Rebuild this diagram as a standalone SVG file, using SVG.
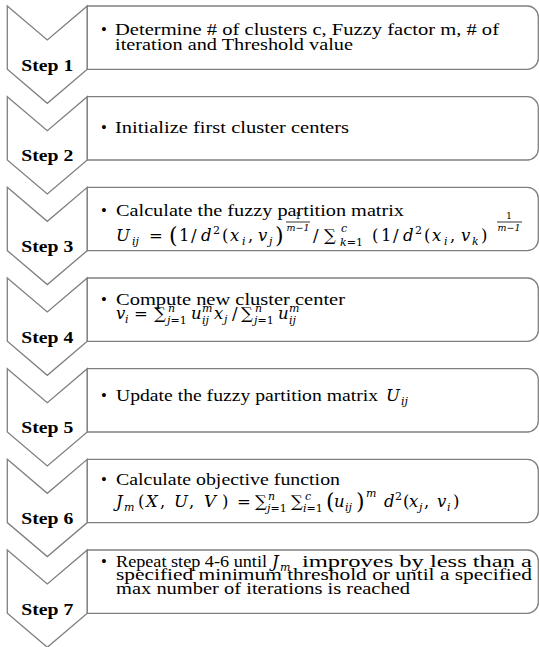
<svg xmlns="http://www.w3.org/2000/svg" width="539" height="647" viewBox="0 0 539 647">
<style>
.chev{fill:#fff;stroke:#808080;stroke-width:1.3;stroke-linejoin:miter}
.box{fill:#fff;stroke:#808080;stroke-width:1.3}
.t{font-family:"Liberation Serif","Times New Roman",serif;font-size:16.5px;fill:#000}
.lbl{font-weight:bold;text-anchor:middle}
.m{font-family:"DejaVu Serif","Liberation Serif",serif;font-size:16.5px;fill:#000}
.i{font-style:italic}
.s{font-size:11px}
.xs{font-size:9.5px}
.big{font-size:22px}
.c{text-anchor:middle}
.bar{stroke:#000;stroke-width:0.8}
</style>
<rect width="539" height="647" fill="#fff"/>
<g id="step1">
<path class="chev" d="M7.3,6 L47.3,40 L87.3,6 L87.3,69.3 L47.3,103.3 L7.3,69.3 Z"/>
<path class="box" d="M87.3,6 H527.3 A11,11 0 0 1 538.3,17 V58.3 A11,11 0 0 1 527.3,69.3 H87.3 Z"/>
<text class="t lbl" x="47.3" y="70.5" textLength="52" lengthAdjust="spacingAndGlyphs">Step 1</text>
<text class="t" x="101" y="35">•</text>
<text class="t" x="115" y="35" textLength="384" lengthAdjust="spacingAndGlyphs">Determine # of clusters c, Fuzzy  factor m, # of</text>
<text class="t" x="115" y="50" textLength="238" lengthAdjust="spacingAndGlyphs">iteration and Threshold value</text>
</g>
<g id="step2">
<path class="chev" d="M7.3,96.7 L47.3,130.7 L87.3,96.7 L87.3,160 L47.3,194 L7.3,160 Z"/>
<path class="box" d="M87.3,96.7 H527.3 A11,11 0 0 1 538.3,107.7 V149 A11,11 0 0 1 527.3,160 H87.3 Z"/>
<text class="t lbl" x="47.3" y="161.2" textLength="52" lengthAdjust="spacingAndGlyphs">Step 2</text>
<text class="t" x="101" y="133.3">•</text>
<text class="t" x="115" y="133.3" textLength="234" lengthAdjust="spacingAndGlyphs">Initialize first cluster centers</text>
</g>
<g id="step3">
<path class="chev" d="M7.3,187.3 L47.3,221.3 L87.3,187.3 L87.3,250.6 L47.3,284.6 L7.3,250.6 Z"/>
<path class="box" d="M87.3,187.3 H527.3 A11,11 0 0 1 538.3,198.3 V239.6 A11,11 0 0 1 527.3,250.6 H87.3 Z"/>
<text class="t lbl" x="47.3" y="251.8" textLength="52" lengthAdjust="spacingAndGlyphs">Step 3</text>
<text class="t" x="101" y="216">•</text>
<text class="t" x="116" y="216" textLength="288" lengthAdjust="spacingAndGlyphs">Calculate the fuzzy partition matrix</text>
<g class="m">
<text x="116" y="241" class="i">U</text>
<text x="132" y="245" class="i s">ij</text>
<text x="149" y="241">=</text>
<text x="169" y="243" class="big">(</text>
<text x="179" y="241">1</text>
<text x="191" y="241">/</text>
<text x="201" y="241" class="i">d</text>
<text x="213" y="234" class="s">2</text>
<text x="222" y="241">(</text>
<text x="230" y="241" class="i">x</text>
<text x="242" y="245" class="i s">i</text>
<text x="248" y="241">,</text>
<text x="258" y="241" class="i">v</text>
<text x="269" y="245" class="i s">j</text>
<text x="275" y="243" class="big">)</text>
<text x="298" y="218.5" class="xs c">1</text>
<line class="bar" x1="286" y1="222" x2="310" y2="222"/>
<text x="298" y="230.5" class="xs c i">m−1</text>
<text x="313" y="241">/</text>
<text x="324" y="241">∑</text>
<text x="341" y="232" class="s i">c</text>
<text x="340" y="246" class="s"><tspan class="i">k</tspan>=1</text>
<text x="372" y="241">(</text>
<text x="381" y="241">1</text>
<text x="393" y="241">/</text>
<text x="403" y="241" class="i">d</text>
<text x="415" y="234" class="s">2</text>
<text x="424" y="241">(</text>
<text x="432" y="241" class="i">x</text>
<text x="444" y="245" class="i s">i</text>
<text x="450" y="241">,</text>
<text x="461" y="241" class="i">v</text>
<text x="472" y="245" class="i s">k</text>
<text x="481" y="241">)</text>
<text x="509" y="218.5" class="xs c">1</text>
<line class="bar" x1="497" y1="222" x2="522" y2="222"/>
<text x="509" y="230.5" class="xs c i">m−1</text>
</g>
</g>
<g id="step4">
<path class="chev" d="M7.3,278 L47.3,312 L87.3,278 L87.3,341.3 L47.3,375.3 L7.3,341.3 Z"/>
<path class="box" d="M87.3,278 H527.3 A11,11 0 0 1 538.3,289 V330.3 A11,11 0 0 1 527.3,341.3 H87.3 Z"/>
<text class="t lbl" x="47.3" y="342.5" textLength="52" lengthAdjust="spacingAndGlyphs">Step 4</text>
<text class="t" x="101" y="305">•</text>
<text class="t" x="116" y="305" textLength="229" lengthAdjust="spacingAndGlyphs">Compute new cluster center</text>
<g class="m">
<text x="116" y="318.5" class="i">v</text>
<text x="125" y="322.5" class="i s">i</text>
<text x="134" y="318.5">=</text>
<text x="154" y="318.5">∑</text>
<text x="168" y="311.5" class="s i">n</text>
<text x="167" y="323.5" class="s"><tspan class="i">j</tspan>=1</text>
<text x="191" y="318.5" class="i">u</text>
<text x="202" y="311.5" class="s i">m</text>
<text x="202" y="323.5" class="s i">ij</text>
<text x="214" y="318.5" class="i">x</text>
<text x="224" y="322.5" class="s i">j</text>
<text x="232" y="318.5">/</text>
<text x="241" y="318.5">∑</text>
<text x="255" y="311.5" class="s i">n</text>
<text x="254" y="323.5" class="s"><tspan class="i">j</tspan>=1</text>
<text x="278" y="318.5" class="i">u</text>
<text x="289" y="311.5" class="s i">m</text>
<text x="289" y="323.5" class="s i">ij</text>
</g>
</g>
<g id="step5">
<path class="chev" d="M7.3,368.7 L47.3,402.7 L87.3,368.7 L87.3,432 L47.3,466 L7.3,432 Z"/>
<path class="box" d="M87.3,368.7 H527.3 A11,11 0 0 1 538.3,379.7 V421 A11,11 0 0 1 527.3,432 H87.3 Z"/>
<text class="t lbl" x="47.3" y="433.2" textLength="52" lengthAdjust="spacingAndGlyphs">Step 5</text>
<text class="t" x="101" y="400.5">•</text>
<text class="t" x="116" y="400.5" textLength="262" lengthAdjust="spacingAndGlyphs">Update the fuzzy partition matrix</text>
<text class="m i" x="386" y="400.5">U</text>
<text class="m i s" x="401" y="404.5">ij</text>
</g>
<g id="step6">
<path class="chev" d="M7.3,459.3 L47.3,493.3 L87.3,459.3 L87.3,522.6 L47.3,556.6 L7.3,522.6 Z"/>
<path class="box" d="M87.3,459.3 H527.3 A11,11 0 0 1 538.3,470.3 V511.6 A11,11 0 0 1 527.3,522.6 H87.3 Z"/>
<text class="t lbl" x="47.3" y="523.8" textLength="52" lengthAdjust="spacingAndGlyphs">Step 6</text>
<text class="t" x="101" y="485">•</text>
<text class="t" x="116" y="485" textLength="224" lengthAdjust="spacingAndGlyphs">Calculate objective function</text>
<g class="m">
<text x="116" y="506.7" class="i">J</text>
<text x="124" y="510.7" class="i s">m</text>
<text x="138" y="506.7">(</text>
<text x="146" y="506.7" class="i">X</text>
<text x="160" y="506.7">,</text>
<text x="174" y="506.7" class="i">U</text>
<text x="189" y="506.7">,</text>
<text x="204" y="506.7" class="i">V</text>
<text x="222" y="506.7">)</text>
<text x="237" y="506.7">=</text>
<text x="255" y="506.7">∑</text>
<text x="268" y="500" class="s i">n</text>
<text x="267" y="511.5" class="s"><tspan class="i">j</tspan>=1</text>
<text x="291" y="506.7">∑</text>
<text x="305" y="500" class="s i">c</text>
<text x="303" y="511.5" class="s"><tspan class="i">i</tspan>=1</text>
<text x="326" y="508.7" class="big">(</text>
<text x="334" y="506.7" class="i">u</text>
<text x="345" y="510.7" class="i s">ij</text>
<text x="356" y="508.7" class="big">)</text>
<text x="366" y="497" class="s i">m</text>
<text x="384" y="506.7" class="i">d</text>
<text x="395" y="499.5" class="s">2</text>
<text x="403" y="506.7">(</text>
<text x="409" y="506.7" class="i">x</text>
<text x="419" y="510.7" class="i s">j</text>
<text x="424" y="506.7">,</text>
<text x="437" y="506.7" class="i">v</text>
<text x="447" y="510.7" class="i s">i</text>
<text x="453" y="506.7">)</text>
</g>
</g>
<g id="step7">
<path class="chev" d="M7.3,550 L47.3,584 L87.3,550 L87.3,613.3 L47.3,647.3 L7.3,613.3 Z"/>
<path class="box" d="M87.3,550 H527.3 A11,11 0 0 1 538.3,561 V602.3 A11,11 0 0 1 527.3,613.3 H87.3 Z"/>
<text class="t lbl" x="47.3" y="614.5" textLength="52" lengthAdjust="spacingAndGlyphs">Step 7</text>
<text class="t" x="101" y="566.7">•</text>
<text class="t" x="116" y="566.7" textLength="151" lengthAdjust="spacingAndGlyphs">Repeat step 4-6  until</text>
<text class="m i" x="272" y="566.7">J</text>
<text class="m i s" x="280" y="570.7">m</text>
<text class="t" x="302" y="566.7" textLength="230" lengthAdjust="spacingAndGlyphs">improves by less than a</text>
<text class="t" x="116" y="580.2" textLength="416" lengthAdjust="spacingAndGlyphs">specified minimum threshold or until a specified</text>
<text class="t" x="116" y="594" textLength="294" lengthAdjust="spacingAndGlyphs">max number of iterations is reached</text>
</g>
</svg>
